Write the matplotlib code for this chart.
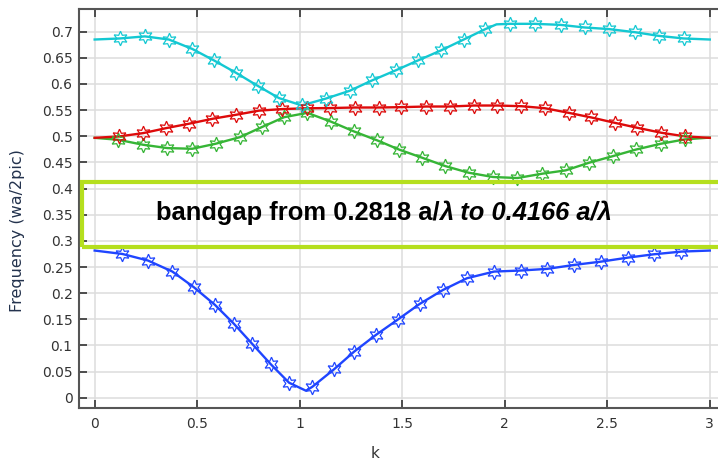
import matplotlib
matplotlib.use("Agg")
import matplotlib.pyplot as plt
import numpy as np
from matplotlib.patches import Rectangle
from matplotlib.offsetbox import TextArea, HPacker, AnnotationBbox

# band data (k, frequency)
cyan_k = [0.122, 0.245, 0.362, 0.476, 0.582, 0.691, 0.797, 0.899, 1.01, 1.127, 1.244, 1.354, 1.468,
          1.577, 1.688, 1.80, 1.906, 2.024, 2.146, 2.272, 2.39, 2.507, 2.634, 2.751, 2.873]
cyan_f = [0.687, 0.691, 0.685, 0.667, 0.645, 0.621, 0.596, 0.573, 0.559, 0.572, 0.587, 0.607, 0.626,
          0.645, 0.664, 0.685, 0.705, 0.715, 0.715, 0.713, 0.708, 0.705, 0.699, 0.692, 0.687]
cyan_ends_k = [0.0, 1.96, 3.0]
cyan_ends_f = [0.685, 0.714, 0.685]

red_k = [0.119, 0.236, 0.349, 0.46, 0.574, 0.688, 0.801, 0.915, 1.034, 1.15, 1.27, 1.387,
         1.496, 1.618, 1.732, 1.85, 1.964, 2.081, 2.195, 2.312, 2.423, 2.537, 2.647, 2.764, 2.881]
red_f = [0.4997, 0.506, 0.5156, 0.524, 0.5334, 0.541, 0.549, 0.552, 0.5535, 0.554, 0.555, 0.555,
         0.5557, 0.5569, 0.5569, 0.5588, 0.5588, 0.5575, 0.5537, 0.5448, 0.5359, 0.5257, 0.5162, 0.5067, 0.4997]
red_ends_k = [0.0, 3.0]
red_ends_f = [0.497, 0.497]

green_k = [0.115, 0.236, 0.355, 0.476, 0.59, 0.709, 0.815, 0.924, 1.037, 1.151, 1.265, 1.379, 1.485,
           1.597, 1.71, 1.824, 1.943, 2.062, 2.182, 2.297, 2.411, 2.528, 2.642, 2.761, 2.878]
green_f = [0.4933, 0.4838, 0.4774, 0.4761, 0.4857, 0.4984, 0.5175, 0.5365, 0.5448, 0.5282, 0.5092, 0.492, 0.4745,
           0.459, 0.443, 0.4303, 0.4221, 0.4202, 0.4284, 0.4348, 0.4494, 0.4621, 0.4748, 0.4857, 0.494]
green_ends_k = [0.0, 3.0]
green_ends_f = [0.497, 0.4975]

blue_k = [0.135, 0.26, 0.379, 0.484, 0.587, 0.68, 0.769, 0.858, 0.948, 1.062, 1.167, 1.265, 1.371,
          1.478, 1.585, 1.699, 1.816, 1.948, 2.078, 2.208, 2.338, 2.471, 2.601, 2.728, 2.861]
blue_f = [0.275, 0.2624, 0.2413, 0.2113, 0.1775, 0.1411, 0.1028, 0.0645, 0.0288, 0.0211, 0.0543, 0.0881, 0.120,
          0.1494, 0.1794, 0.2062, 0.2286, 0.2413, 0.2433, 0.2465, 0.254, 0.2604, 0.268, 0.2744, 0.2795]
blue_ends_k = [0.0, 1.031, 3.0]
blue_ends_f = [0.2815, 0.0134, 0.2815]

gap_lo = 0.288
gap_hi = 0.4126
gap_left = -0.062

x_ticks = [0, 0.5, 1, 1.5, 2, 2.5, 3]
x_ticklabels = ["0", "0.5", "1", "1.5", "2", "2.5", "3"]
y_ticks = [0, 0.05, 0.1, 0.15, 0.2, 0.25, 0.3, 0.35, 0.4, 0.45, 0.5, 0.55, 0.6, 0.65, 0.7]
y_ticklabels = ["0", "0.05", "0.1", "0.15", "0.2", "0.25", "0.3", "0.35", "0.4", "0.45",
                "0.5", "0.55", "0.6", "0.65", "0.7"]

bands = [
    (blue_k, blue_f, blue_ends_k, blue_ends_f, "#1f45ff"),
    (green_k, green_f, green_ends_k, green_ends_f, "#36b536"),
    (red_k, red_f, red_ends_k, red_ends_f, "#dd0a0a"),
    (cyan_k, cyan_f, cyan_ends_k, cyan_ends_f, "#14c8d2"),
]

fig = plt.figure(figsize=(7.18, 4.61), dpi=100)
ax = fig.add_axes([0.1107, 0.1156, 0.8893, 0.8638])

ax.set_xlim(-0.074, 3.04)
ax.set_ylim(-0.019, 0.7424)

star = (6, 1, 0)
for mk, mf, ek, ef, col in bands:
    allk = np.array(list(mk) + list(ek))
    allf = np.array(list(mf) + list(ef))
    order = np.argsort(allk)
    ax.plot(allk[order], allf[order], color=col, lw=1.7, zorder=3)
    ax.plot(mk, mf, ls="none", marker=star, markersize=10.5, markerfacecolor="none",
            markeredgecolor=col, markeredgewidth=0.9, zorder=4)

# band gap box
ax.add_patch(Rectangle((gap_left, gap_lo), 5, gap_hi - gap_lo, fill=False,
                       edgecolor="#b5df1e", lw=3, zorder=5))

t1 = TextArea("bandgap from 0.2818 a/",
              textprops=dict(family="Liberation Sans", weight="bold", size=18.4, color="black"))
t2 = TextArea("\u03bb to 0.4166 a/\u03bb",
              textprops=dict(family="Liberation Sans", weight="bold", style="italic", size=18.4, color="black"))
box = HPacker(children=[t1, t2], align="baseline", pad=0, sep=0)
ab = AnnotationBbox(box, (1.411, 0.354), xycoords="data", frameon=False, box_alignment=(0.5, 0.5), zorder=6)
ax.add_artist(ab)

ax.set_xticks(x_ticks)
ax.set_xticklabels(x_ticklabels)
ax.set_yticks(y_ticks)
ax.set_yticklabels(y_ticklabels)
ax.grid(True, color="#dddddd", lw=1.1, zorder=0)
ax.set_axisbelow(True)

ax.tick_params(axis="x", direction="in", length=6, width=1.2, top=True, bottom=True,
               labelsize=10, labelcolor="#333333", color="#333333", pad=7)
ax.tick_params(axis="y", direction="in", length=6, width=1.2, left=True, right=False,
               labelsize=10, labelcolor="#333333", color="#333333", pad=5)

for side in ["left", "bottom", "top"]:
    ax.spines[side].set_color("#555555")
    ax.spines[side].set_linewidth(1.5)
ax.spines["right"].set_visible(False)

ax.set_xlabel("k", fontsize=11, color="#333333")
ax.set_ylabel("Frequency (wa/2pic)", fontsize=11.5, color="#23324d")
ax.xaxis.set_label_coords(0.463, -0.096)
ax.yaxis.set_label_coords(-0.085, 0.446)

fig.savefig("out.png", dpi=100)
